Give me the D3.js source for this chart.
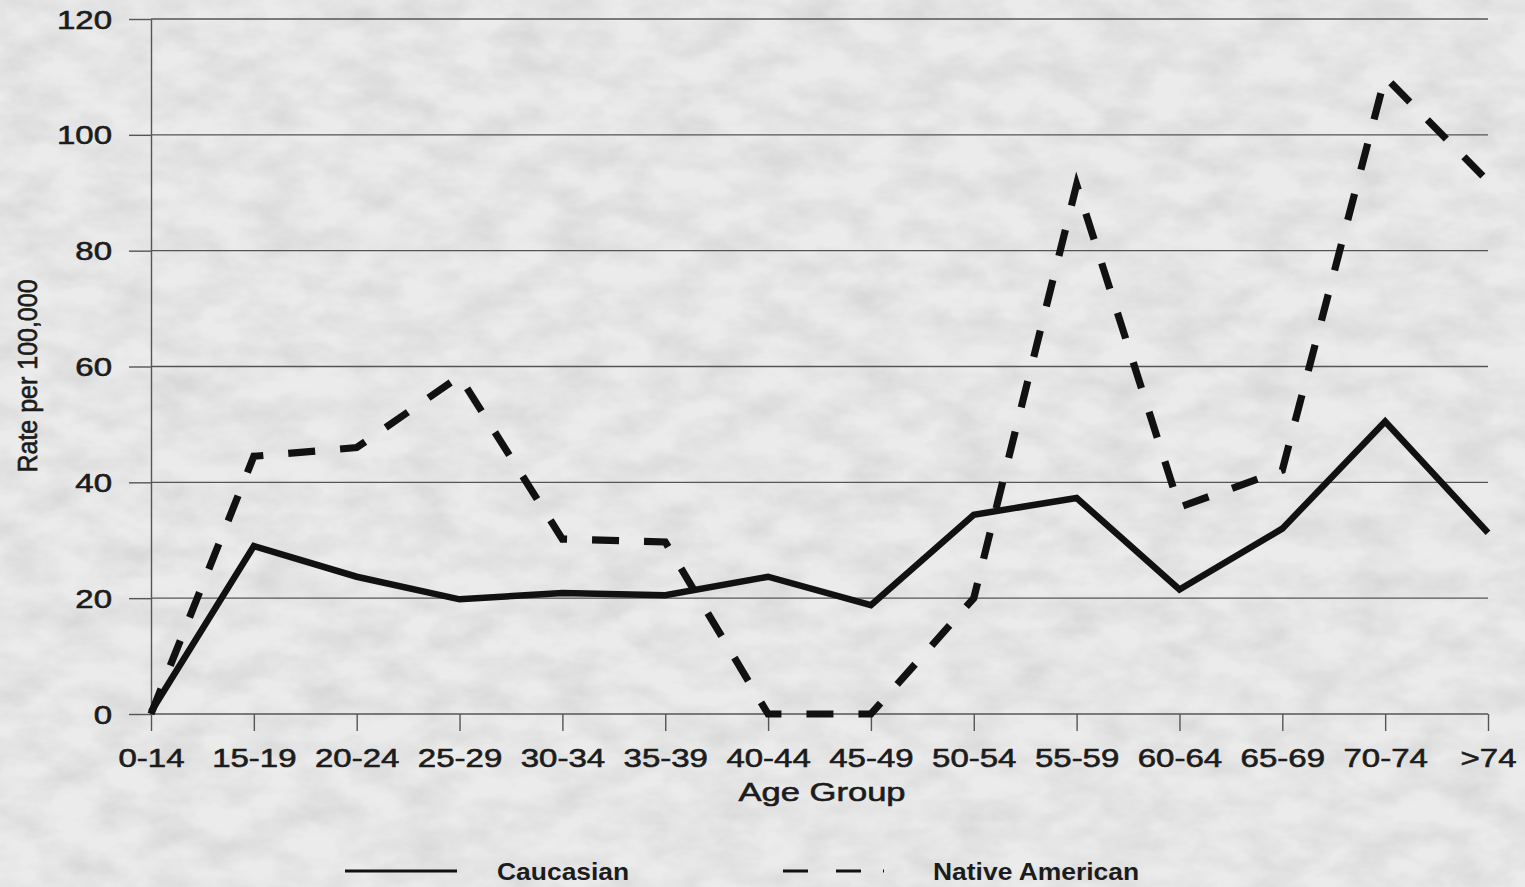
<!DOCTYPE html>
<html>
<head>
<meta charset="utf-8">
<script src="https://cdn.jsdelivr.net/npm/d3@7"></script>
<style>
  html, body { margin: 0; padding: 0; background: #e9e9e9; }
  svg { display: block; }
  text { font-family: "Liberation Sans", Arial, sans-serif; fill: #1c1c1c; }
</style>
</head>
<body>
<svg id="chart" width="1525" height="887"></svg>
<script>
// Age-specific rates per 100,000
const ageGroups = ["0-14", "15-19", "20-24", "25-29", "30-34", "35-39", "40-44",
                   "45-49", "50-54", "55-59", "60-64", "65-69", "70-74", ">74"];
const caucasian = [0.4, 29.0, 23.7, 19.8, 20.9, 20.5, 23.7,
                   18.8, 34.4, 37.3, 21.5, 32.0, 50.5, 31.3];
const nativeAmerican = [0, 44.5, 46.0, 58.3, 30.2, 29.7, 0,
                        0, 20.0, 91.4, 35.7, 42.1, 110.0, 92.0];
const yTicks = [0, 20, 40, 60, 80, 100, 120];
const seriesNames = ["Caucasian", "Native American"];

const W = 1525, H = 887;
const plotLeft = 151, plotRight = 1488, plotTop = 19, plotBottom = 714;
const stretch = 1.32;   // wide lettering of the axis labels
const ink = "#1c1c1c";

const svg = d3.select("#chart");

// paper-like mottled background
const defs = svg.append("defs");
const f = defs.append("filter").attr("id", "paper")
  .attr("x", 0).attr("y", 0).attr("width", "100%").attr("height", "100%");
f.append("feTurbulence").attr("type", "fractalNoise")
  .attr("baseFrequency", "0.02 0.035").attr("numOctaves", 4).attr("seed", 7);
f.append("feColorMatrix").attr("type", "matrix")
  .attr("values", "0 0 0 0 0  0 0 0 0 0  0 0 0 0 0  0.14 0 0 0 -0.045");
svg.append("rect").attr("width", W).attr("height", H).attr("fill", "#ebebeb");
svg.append("rect").attr("width", W).attr("height", H).attr("filter", "url(#paper)");

const x = d3.scalePoint().domain(ageGroups).range([plotLeft, plotRight]);
const y = d3.scaleLinear().domain([0, 120]).range([plotBottom, plotTop]);

// horizontal gridlines
svg.append("g").selectAll("line").data(yTicks.filter(d => d > 0)).join("line")
  .attr("x1", plotLeft).attr("x2", plotRight)
  .attr("y1", d => y(d)).attr("y2", d => y(d))
  .attr("stroke", "#555").attr("stroke-width", 1.4);

function styleLabel(sel) {
  sel.style("font-family", "'Liberation Sans', Arial, sans-serif")
    .attr("fill", ink).attr("stroke", ink).attr("stroke-width", 0.6);
}

// y axis
const yAxis = svg.append("g").attr("transform", `translate(${plotLeft},0)`)
  .call(d3.axisLeft(y).tickValues(yTicks).tickSize(22).tickSizeOuter(0).tickPadding(0));
yAxis.select(".domain").attr("stroke", "#555").attr("stroke-width", 1.4);
yAxis.selectAll(".tick line").attr("stroke", "#555").attr("stroke-width", 1.4);
yAxis.selectAll(".tick text")
  .attr("font-size", 25).attr("x", -39 / stretch).attr("dy", null).attr("y", 9)
  .attr("transform", `scale(${stretch},1)`)
  .call(styleLabel);

// x axis
const xAxis = svg.append("g").attr("transform", `translate(0,${plotBottom})`)
  .call(d3.axisBottom(x).tickSize(17).tickSizeOuter(0));
xAxis.select(".domain").attr("stroke", "#555").attr("stroke-width", 1.4)
  .attr("d", `M${plotLeft - 1},0H${plotRight}`);
xAxis.selectAll(".tick line").attr("stroke", "#555").attr("stroke-width", 1.4);
xAxis.selectAll(".tick text")
  .attr("font-size", 25).attr("y", 53).attr("dy", null)
  .attr("transform", `scale(${stretch},1)`)
  .call(styleLabel);

// axis titles
svg.append("text")
  .attr("transform", `translate(822,801) scale(1.33,1)`)
  .attr("text-anchor", "middle").attr("font-size", 26)
  .text("Age Group").call(styleLabel);
svg.append("text")
  .attr("transform", "translate(37,376) rotate(-90) scale(1,1.1)")
  .attr("text-anchor", "middle").attr("font-size", 25)
  .text("Rate per 100,000").call(styleLabel);

// series lines
const line = d3.line().x((d, i) => x(ageGroups[i])).y(d => y(d));
svg.append("path").datum(nativeAmerican)
  .attr("d", line).attr("fill", "none").attr("stroke", "#111")
  .attr("stroke-width", 7.2).attr("stroke-dasharray", "27,25")
  .attr("stroke-linejoin", "miter");
svg.append("path").datum(caucasian)
  .attr("d", line).attr("fill", "none").attr("stroke", "#111")
  .attr("stroke-width", 6.5).attr("stroke-linejoin", "miter");

// legend
const lg = svg.append("g");
lg.append("line").attr("x1", 345).attr("x2", 457).attr("y1", 871).attr("y2", 871)
  .attr("stroke", "#111").attr("stroke-width", 3);
lg.append("line").attr("x1", 783).attr("x2", 884).attr("y1", 871).attr("y2", 871)
  .attr("stroke", "#111").attr("stroke-width", 3)
  .attr("stroke-dasharray", "25,28,25,22,2,100");
lg.append("text").attr("transform", "translate(497,880) scale(1.15,1)")
  .attr("font-size", 23).attr("font-weight", "bold").attr("fill", ink).text(seriesNames[0]);
lg.append("text").attr("transform", "translate(933,880) scale(1.15,1)")
  .attr("font-size", 23).attr("font-weight", "bold").attr("fill", ink).text(seriesNames[1]);
</script>
</body>
</html>
